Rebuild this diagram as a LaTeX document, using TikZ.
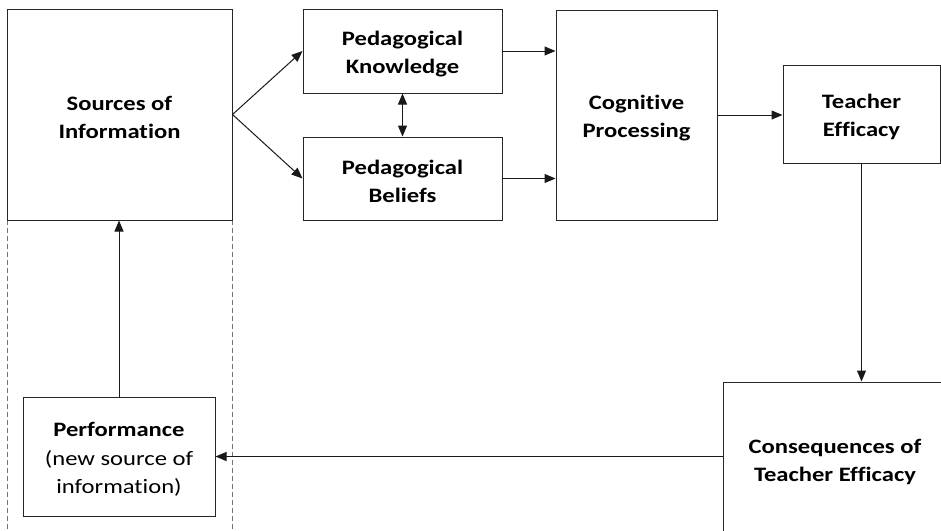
\documentclass[tikz,border=0pt]{standalone}
\usepackage{fontspec}
\setmainfont[FakeStretch=1.2, Ligatures=NoCommon]{Carlito}
\usetikzlibrary{arrows.meta}
\begin{document}
\begin{tikzpicture}[x=1pt,y=-1pt,
  box/.style={draw=black!85, line width=1pt, inner sep=0pt},
  txt/.style={align=center, inner sep=0pt, yshift=-3pt,
    font=\fontsize{20.5}{28.5}\selectfont},
  link/.style={draw=black!90, line width=1pt, -{Triangle[length=11pt,width=9pt]}},
  twoway/.style={draw=black!90, line width=1pt, {Triangle[length=11pt,width=9pt]}-{Triangle[length=11pt,width=9pt]}},
  group/.style={draw=black!55, line width=0.8pt, dash pattern=on 5pt off 3pt}]
\useasboundingbox (0,0) rectangle (941,530);
\begin{scope}
\clip (0,0) rectangle (941,530);
% dashed frame around the feedback loop
\draw[group] (7,220) -- (7,540);
\draw[group] (232,220) -- (232,540);
\node[box, minimum width=225pt, minimum height=211pt,
  label={[txt]center:\textbf{Sources of}\\\textbf{Information}}] (src) at (119.5,114.5) {};
\node[box, minimum width=199pt, minimum height=84pt,
  label={[txt]center:\textbf{Pedagogical}\\\textbf{Knowledge}}] (pk) at (402.5,51) {};
\node[box, minimum width=199pt, minimum height=83pt,
  label={[txt]center:\textbf{Pedagogical}\\\textbf{Beliefs}}] (pb) at (402.5,178.5) {};
\node[box, minimum width=161pt, minimum height=210pt,
  label={[txt]center:\textbf{Cognitive}\\\textbf{Processing}}] (cog) at (636.5,115) {};
\node[box, minimum width=157pt, minimum height=98pt,
  label={[txt]center:\textbf{Teacher}\\\textbf{Efficacy}}] (te) at (861.5,114) {};
\node[box, minimum width=224pt, minimum height=154pt,
  label={[txt]center:\textbf{Consequences of}\\\textbf{Teacher Efficacy}}] (cons) at (835,459) {};
\node[box, minimum width=192pt, minimum height=119pt,
  label={[txt]center:\textbf{Performance}\\(new source of\\information)}] (perf) at (119,456.5) {};
% connectors
\draw[link] (src.east) -- (pk.west);
\draw[link] (src.east) -- (pb.west);
\draw[twoway] (pk.south) -- (pb.north);
\draw[link] (pk.east) -- (pk.east -| cog.west);
\draw[link] (pb.east) -- (pb.east -| cog.west);
\draw[link] (cog.east) -- (cog.east -| te.west);
\draw[link] (te.south) -- (te.south |- cons.north);
\draw[link] (perf.east -| cons.west) -- (perf.east);
\draw[link] (perf.north) -- (src.south -| perf.north);
\end{scope}
\end{tikzpicture}
\end{document}
